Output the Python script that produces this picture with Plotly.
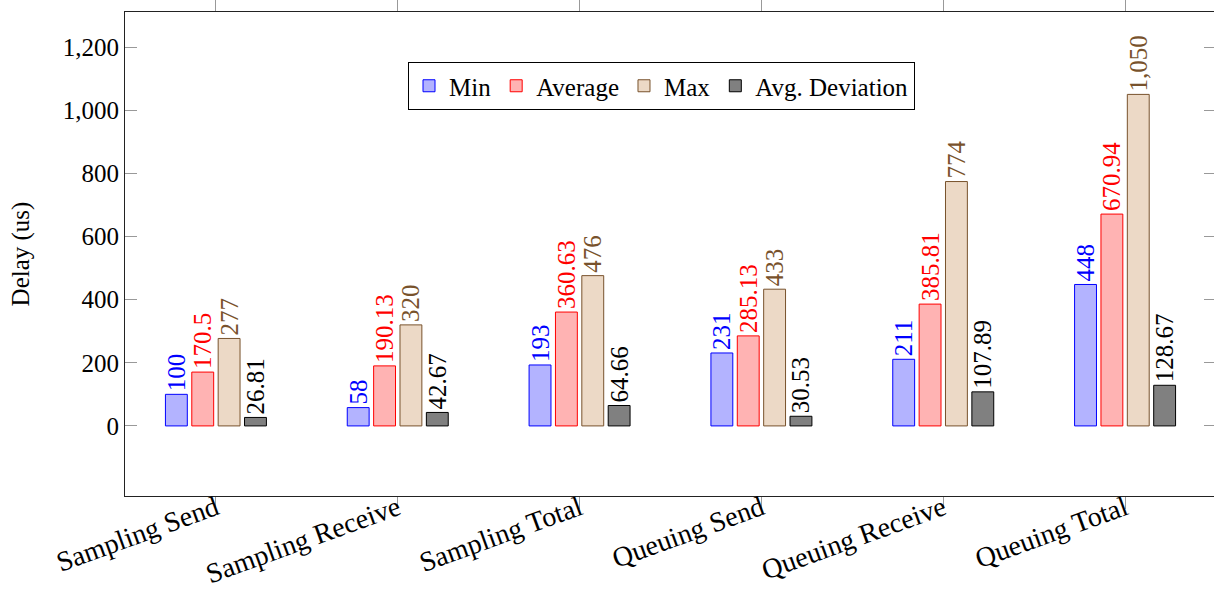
import plotly.graph_objects as go

categories = ["Sampling Send", "Sampling Receive", "Sampling Total",
              "Queuing Send", "Queuing Receive", "Queuing Total"]
min_vals = [100, 58, 193, 231, 211, 448]
avg_vals = [170.5, 190.13, 360.63, 285.13, 385.81, 670.94]
max_vals = [277, 320, 476, 433, 774, 1050]
dev_vals = [26.81, 42.67, 64.66, 30.53, 107.89, 128.67]
y_ticks = [0, 200, 400, 600, 800, 1000, 1200]

FONT = "Liberation Serif"
series = [
    ("Min", min_vals, "rgb(179,179,255)", "rgb(0,0,255)", "rgb(0,0,255)"),
    ("Average", avg_vals, "rgb(255,179,179)", "rgb(255,0,0)", "rgb(255,0,0)"),
    ("Max", max_vals, "rgb(236,217,198)", "rgb(120,82,44)", "rgb(120,82,44)"),
    ("Avg. Deviation", dev_vals, "rgb(128,128,128)", "rgb(0,0,0)", "rgb(0,0,0)"),
]

fig = go.Figure()
for name, vals, fill, line, tcol in series:
    fig.add_trace(go.Bar(
        name=name, x=list(range(len(categories))), y=vals,
        marker=dict(color=fill, line=dict(color=line, width=1)),
        text=[f"{v:,}" for v in vals],
        textposition="outside", textangle=-90,
        textfont=dict(family=FONT, size=25, color=tcol),
        constraintext="none", cliponaxis=False,
    ))

fig.update_layout(
    width=1220, height=591,
    margin=dict(l=125, r=4, t=12, b=95, autoexpand=False),
    paper_bgcolor="white", plot_bgcolor="white",
    barmode="group", bargap=0.42, bargroupgap=0.17,
    font=dict(family=FONT, size=25, color="black"),
    showlegend=True,
    legend=dict(orientation="h", x=(408 - 125) / 1091, xanchor="left",
                y=(496 - 62) / 484, yanchor="top",
                bordercolor="black", borderwidth=1, bgcolor="white",
                font=dict(family=FONT, size=25), itemwidth=30,
                tracegroupgap=0),
    xaxis=dict(
        range=[-0.5, 5.5], tickmode="array",
        tickvals=list(range(len(categories))), ticktext=categories,
        tickangle=-20, ticks="outside", ticklen=12, tickcolor="#999",
        showline=True, linecolor="#222", linewidth=1, mirror="ticks",
        showgrid=False, zeroline=False, automargin=False,
        tickfont=dict(family=FONT, size=28), ticklabelstandoff=-28,
    ),
    yaxis=dict(
        range=[-222, 1311], tickmode="array", tickvals=y_ticks,
        ticktext=[f"{v:,}" for v in y_ticks],
        ticks="inside", ticklen=12, tickcolor="#999",
        showline=True, linecolor="#222", linewidth=1, mirror="ticks",
        showgrid=False, zeroline=False, automargin=False,
        tickfont=dict(family=FONT, size=25),
        title=dict(text="Delay (us)", font=dict(family=FONT, size=25), standoff=26),
    ),
)

fig.write_html(
    "out.html",
    config={"displayModeBar": False},
    post_script="document.documentElement.style.overflow='hidden';"
                "document.body.style.margin='0';document.body.style.overflow='hidden';",
)
